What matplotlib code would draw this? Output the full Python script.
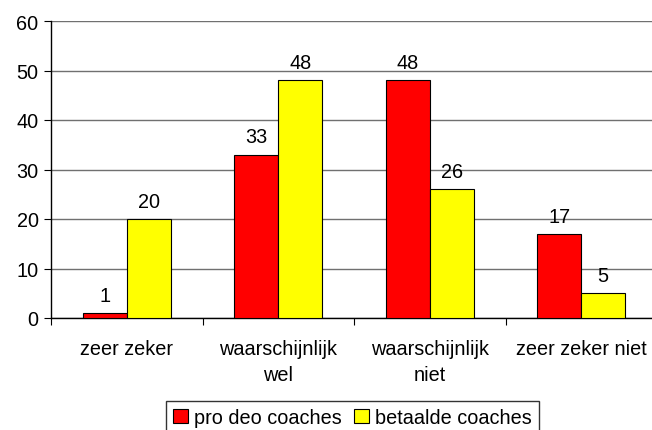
import matplotlib
matplotlib.use('Agg')
import matplotlib.pyplot as plt
import numpy as np

categories = ['zeer zeker', 'waarschijnlijk\nwel', 'waarschijnlijk\nniet', 'zeer zeker niet']
pro_deo = [1, 33, 48, 17]
betaalde = [20, 48, 26, 5]
series_names = ['pro deo coaches', 'betaalde coaches']

plt.rcParams['font.family'] = ['Liberation Sans', 'DejaVu Sans']
plt.rcParams['font.size'] = 14.3

fig = plt.figure(figsize=(6.52, 4.31), dpi=100)
# plot area in pixels: x 51..657, y 22..319
ax = fig.add_axes([51/652, 1 - 319/431, 606/652, 297/431])

x = np.arange(len(categories))
w = 0.29
b1 = ax.bar(x - w/2, pro_deo, w, color='#ff0000', edgecolor='black', linewidth=0.8,
            label=series_names[0], zorder=3)
b2 = ax.bar(x + w/2, betaalde, w, color='#ffff00', edgecolor='black', linewidth=0.8,
            label=series_names[1], zorder=3)

for bars in (b1, b2):
    for r in bars:
        ax.annotate(str(int(r.get_height())), (r.get_x() + r.get_width()/2, r.get_height()),
                    xytext=(0, 6), textcoords='offset points', ha='center', va='bottom')

ax.set_xlim(-0.5, len(categories) - 0.5)
ax.set_ylim(0, 60)
ax.set_yticks(range(0, 61, 10))
ax.yaxis.grid(True, color='#707070', linewidth=1.0, zorder=0)
ax.set_axisbelow(True)

ax.set_xticks(np.arange(-0.5, len(categories), 1.0))
ax.set_xticklabels([])
ax.set_xticks(x, minor=True)
ax.set_xticklabels(categories, minor=True, linespacing=1.5)
ax.tick_params(axis='x', which='minor', length=0, pad=15)
ax.tick_params(axis='x', which='major', length=5, direction='out', color='black')
ax.tick_params(axis='y', length=5, direction='out', pad=4)

for s in ('top', 'right'):
    ax.spines[s].set_visible(False)
for s in ('left', 'bottom'):
    ax.spines[s].set_color('black')
    ax.spines[s].set_linewidth(1.0)

leg = fig.legend(loc='upper center', bbox_to_anchor=(352.5/652, 1 - 402/431), ncol=2, frameon=True,
                 fancybox=False, edgecolor='black', handlelength=0.75, handleheight=0.75,
                 handletextpad=0.3, columnspacing=0.6, borderpad=0.35, borderaxespad=0)
leg.get_frame().set_linewidth(1.0)

fig.savefig('out.png', dpi=100)
